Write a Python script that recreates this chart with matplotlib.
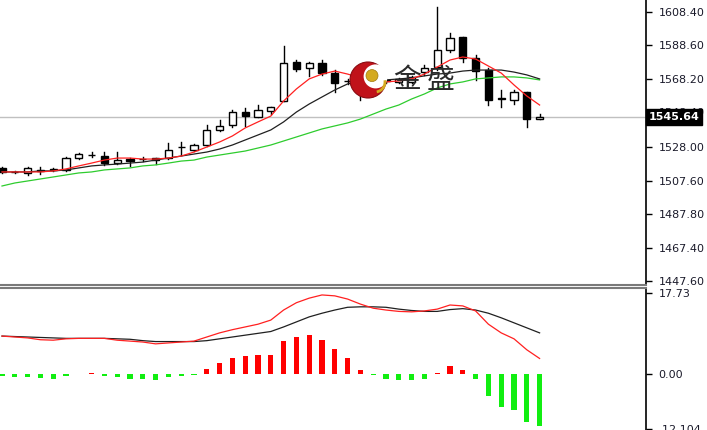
import numpy as np
import matplotlib
matplotlib.use('Agg')
import matplotlib.pyplot as plt
from matplotlib.patches import Rectangle, Circle, Arc
import matplotlib.transforms as mtransforms

# velas
opens = [1515.2, 1512.8, 1512.2, 1513.4, 1514.0, 1514.0, 1521.1, 1522.9, 1522.3, 1518.1,
         1520.5, 1520.5, 1521.1, 1521.1, 1527.7, 1525.9, 1528.9, 1537.9, 1540.9, 1548.6,
         1545.6, 1549.2, 1555.2, 1578.5, 1574.9, 1577.9, 1571.9, 1567.0, 1566.6, 1565.4,
         1567.2, 1566.6, 1566.6, 1572.5, 1575.5, 1585.7, 1593.5, 1580.9, 1573.7, 1556.4,
         1555.8, 1560.6, 1544.6]
highs = [1515.8, 1513.4, 1515.8, 1515.8, 1515.2, 1521.7, 1524.1, 1524.7, 1524.7, 1524.7,
         1521.1, 1521.7, 1521.4, 1530.1, 1530.7, 1529.5, 1540.9, 1543.9, 1549.8, 1551.0,
         1552.8, 1551.6, 1588.1, 1579.7, 1578.5, 1579.7, 1573.7, 1568.4, 1567.8, 1567.8,
         1568.4, 1569.0, 1570.2, 1576.7, 1611.4, 1595.8, 1593.5, 1582.7, 1574.9, 1561.8,
         1561.8, 1560.6, 1547.4]
lows = [1512.2, 1512.2, 1511.0, 1511.6, 1513.4, 1513.4, 1520.5, 1521.7, 1517.0, 1517.5,
        1516.4, 1519.3, 1517.5, 1520.5, 1522.9, 1525.3, 1528.3, 1537.3, 1539.7, 1540.3,
        1545.6, 1547.4, 1555.2, 1573.1, 1570.2, 1570.8, 1560.6, 1565.4, 1555.8, 1564.8,
        1566.0, 1566.0, 1566.0, 1570.8, 1573.7, 1584.5, 1578.5, 1567.8, 1552.8, 1551.6,
        1553.4, 1539.7, 1544.4]
closes = [1512.8, 1512.6, 1515.2, 1513.6, 1514.2, 1521.1, 1523.5, 1523.1, 1518.1, 1519.9,
          1519.3, 1520.6, 1519.9, 1525.9, 1527.9, 1528.9, 1537.9, 1540.3, 1548.6, 1546.2,
          1549.8, 1551.6, 1577.9, 1574.3, 1577.9, 1571.9, 1566.0, 1567.2, 1563.0, 1567.2,
          1567.4, 1568.4, 1569.6, 1574.9, 1585.7, 1592.9, 1580.9, 1573.1, 1555.8, 1556.6,
          1560.6, 1544.4, 1545.64]

# medias moviles
ma_rojo = [1512.8, 1512.8, 1512.8, 1512.8, 1513.4, 1514.6, 1516.4, 1518.1, 1519.9, 1521.1,
           1521.1, 1520.5, 1520.5, 1521.1, 1522.3, 1524.7, 1527.7, 1530.7, 1534.3, 1539.1,
           1542.7, 1546.2, 1555.2, 1562.4, 1568.4, 1571.3, 1573.1, 1571.3, 1569.0, 1567.2,
           1566.6, 1567.2, 1568.4, 1571.3, 1575.5, 1579.7, 1581.5, 1580.3, 1576.1, 1571.9,
           1564.8, 1558.2, 1552.8]
ma_negro = [1512.8, 1512.8, 1512.8, 1513.4, 1513.4, 1514.0, 1515.2, 1516.4, 1517.0, 1517.5,
            1518.1, 1518.7, 1519.9, 1521.1, 1522.3, 1523.5, 1524.7, 1526.5, 1528.9, 1531.9,
            1534.9, 1537.9, 1542.7, 1548.6, 1553.4, 1557.6, 1561.8, 1565.4, 1567.2, 1567.8,
            1567.8, 1568.4, 1569.0, 1570.2, 1571.3, 1571.9, 1573.1, 1573.7, 1573.7, 1573.7,
            1572.5, 1570.8, 1568.4]
ma_verde = [1504.4, 1506.2, 1507.4, 1508.6, 1509.8, 1511.0, 1512.2, 1512.8, 1514.0, 1514.6,
            1515.2, 1516.4, 1517.0, 1518.1, 1519.3, 1519.9, 1521.7, 1522.9, 1524.1, 1525.3,
            1527.1, 1528.9, 1531.3, 1533.7, 1536.1, 1538.5, 1540.3, 1542.1, 1544.4, 1547.4,
            1550.4, 1552.8, 1556.4, 1559.4, 1563.0, 1565.4, 1566.6, 1568.4, 1569.0, 1569.6,
            1569.6, 1569.0, 1567.8]

# MACD
dif = [8.3, 8.1, 7.9, 7.5, 7.4, 7.7, 7.8, 7.8, 7.8, 7.4, 7.2, 7.0, 6.6, 6.8, 7.0, 7.2,
       8.1, 9.0, 9.7, 10.3, 10.9, 11.8, 14.0, 15.6, 16.6, 17.3, 17.1, 16.4, 15.3, 14.4,
       14.0, 13.7, 13.6, 13.8, 14.2, 15.1, 14.9, 13.8, 10.9, 9.0, 7.7, 5.3, 3.4]
dea = [8.3, 8.2, 8.1, 8.0, 7.9, 7.8, 7.8, 7.8, 7.8, 7.7, 7.6, 7.3, 7.1, 7.1, 7.1, 7.1,
       7.3, 7.7, 8.1, 8.5, 8.9, 9.3, 10.3, 11.4, 12.5, 13.3, 14.0, 14.6, 14.7, 14.7,
       14.6, 14.2, 13.9, 13.7, 13.7, 14.1, 14.3, 14.0, 13.3, 12.3, 11.2, 10.1, 9.0]
hist = [-0.4, -0.7, -0.7, -0.8, -1.1, -0.5, 0.1, 0.3, -0.5, -0.7, -1.0, -1.1, -1.3, -0.7,
        -0.5, -0.2, 1.2, 2.4, 3.6, 3.9, 4.2, 4.2, 7.3, 8.2, 8.6, 7.5, 5.5, 3.5, 0.9, -0.3,
        -1.1, -1.3, -1.3, -1.1, 0.2, 1.7, 0.9, -1.1, -4.8, -7.3, -7.9, -10.4, -11.3]

precio_actual = 1545.64
ticks_precio = [1608.40, 1588.60, 1568.20, 1548.40, 1528.00, 1507.60, 1487.80, 1467.40, 1447.60]
etiquetas_precio = ['1608.40', '1588.60', '1568.20', '1548.40', '1528.00', '1507.60',
                    '1487.80', '1467.40', '1447.60']
ticks_macd = [17.73, 0.00, -12.104]
etiquetas_macd = ['17.73', '0.00', '-12.104']

W, H = 707, 430
fig = plt.figure(figsize=(W / 100, H / 100), dpi=100)
fig.patch.set_facecolor('white')

eje_x = 646  # pixel del eje derecho
ax1 = fig.add_axes([0, (H - 285) / H, eje_x / W, 285 / H])
ax2 = fig.add_axes([0, 0, eje_x / W, (H - 288) / H])

x = np.arange(len(opens))
ancho = 0.55

# velas
for i in range(len(opens)):
    o, h, l, c = opens[i], highs[i], lows[i], closes[i]
    ax1.plot([i, i], [l, h], color='black', lw=1, zorder=2)
    fc = 'white' if c >= o else 'black'
    alto = max(abs(c - o), 0.3)
    ax1.add_patch(Rectangle((i - ancho / 2, min(o, c)), ancho, alto,
                            fc=fc, ec='black', lw=1, zorder=3))

ax1.plot(x, ma_verde, color='#2ecc2e', lw=0.9, zorder=4)
ax1.plot(x, ma_negro, color='#202020', lw=0.9, zorder=4)
ax1.plot(x, ma_rojo, color='#ff2020', lw=0.9, zorder=4)
ax1.axhline(precio_actual, color='#c0c0c0', lw=1, zorder=1)

xmin, xmax = -0.156, (eje_x - 2) / 12.8
ax1.set_xlim(xmin, xmax)
ax1.set_ylim(1445.23, 1615.57)
ax1.set_xticks([])
ax1.yaxis.tick_right()
ax1.set_yticks(ticks_precio)
ax1.set_yticklabels(etiquetas_precio)

# MACD
colores = ['#ff0000' if v >= 0 else '#11ee11' for v in hist]
ax2.bar(x, hist, width=0.4, color=colores, zorder=2)
ax2.plot(x, dea, color='#202020', lw=0.9, zorder=3)
ax2.plot(x, dif, color='#ff2020', lw=0.9, zorder=3)
ax2.set_xlim(xmin, xmax)
ax2.set_ylim(-12.25, 18.82)
ax2.set_xticks([])
ax2.yaxis.tick_right()
ax2.set_yticks(ticks_macd)
ax2.set_yticklabels(etiquetas_macd)

for ax in (ax1, ax2):
    ax.spines['left'].set_visible(False)
    ax.spines['right'].set_color('black')
    ax.spines['right'].set_linewidth(1.2)
    ax.tick_params(axis='y', direction='out', length=4, width=1, pad=5,
                   labelsize=8, colors='black')
    for t in ax.get_yticklabels():
        t.set_color('#1a1a2a')
ax1.spines['top'].set_visible(False)
ax1.spines['bottom'].set_color('#7a7a7a')
ax1.spines['bottom'].set_linewidth(1.5)
ax2.spines['top'].set_color('#7a7a7a')
ax2.spines['top'].set_linewidth(1.5)
ax2.spines['bottom'].set_visible(False)

# etiqueta del precio actual
trans = mtransforms.blended_transform_factory(ax1.transAxes, ax1.transData)
ax1.text(1.004, precio_actual, '1545.64', transform=trans, color='white', fontsize=8,
         fontweight='bold', va='center', ha='left', clip_on=False, zorder=10,
         bbox=dict(boxstyle='square,pad=0.25', fc='black', ec='black'))

# logo de agua
logo = fig.add_axes([(368 - 20) / W, 1 - (80 + 20) / H, 40 / W, 40 / H])
logo.set_xlim(-1, 1)
logo.set_ylim(-1, 1)
logo.axis('off')
logo.add_patch(Circle((0, 0), 0.9, fc='#c0121a', ec='#8a0a10', lw=0.8))
logo.add_patch(Circle((0.38, 0.18), 0.6, fc='white', ec='none'))
logo.add_patch(Circle((0.2, 0.22), 0.3, fc='#d4aa20', ec='#a07a10', lw=0.5))
logo.add_patch(Arc((0.35, -0.1), 1.0, 1.0, theta1=-80, theta2=10, color='#d4aa20', lw=2))

plt.rcParams['font.family'] = ['Noto Sans CJK SC', 'DejaVu Sans']
fig.text(407 / W, 1 - 80 / H, '金', fontsize=20, color='#2a2a2a', ha='center', va='center',
         family=['Noto Sans CJK SC', 'DejaVu Sans'])
fig.text(441 / W, 1 - 80 / H, '盛', fontsize=20, color='#2a2a2a', ha='center', va='center',
         family=['Noto Sans CJK SC', 'DejaVu Sans'])

fig.savefig('out.png', dpi=100, facecolor='white')
